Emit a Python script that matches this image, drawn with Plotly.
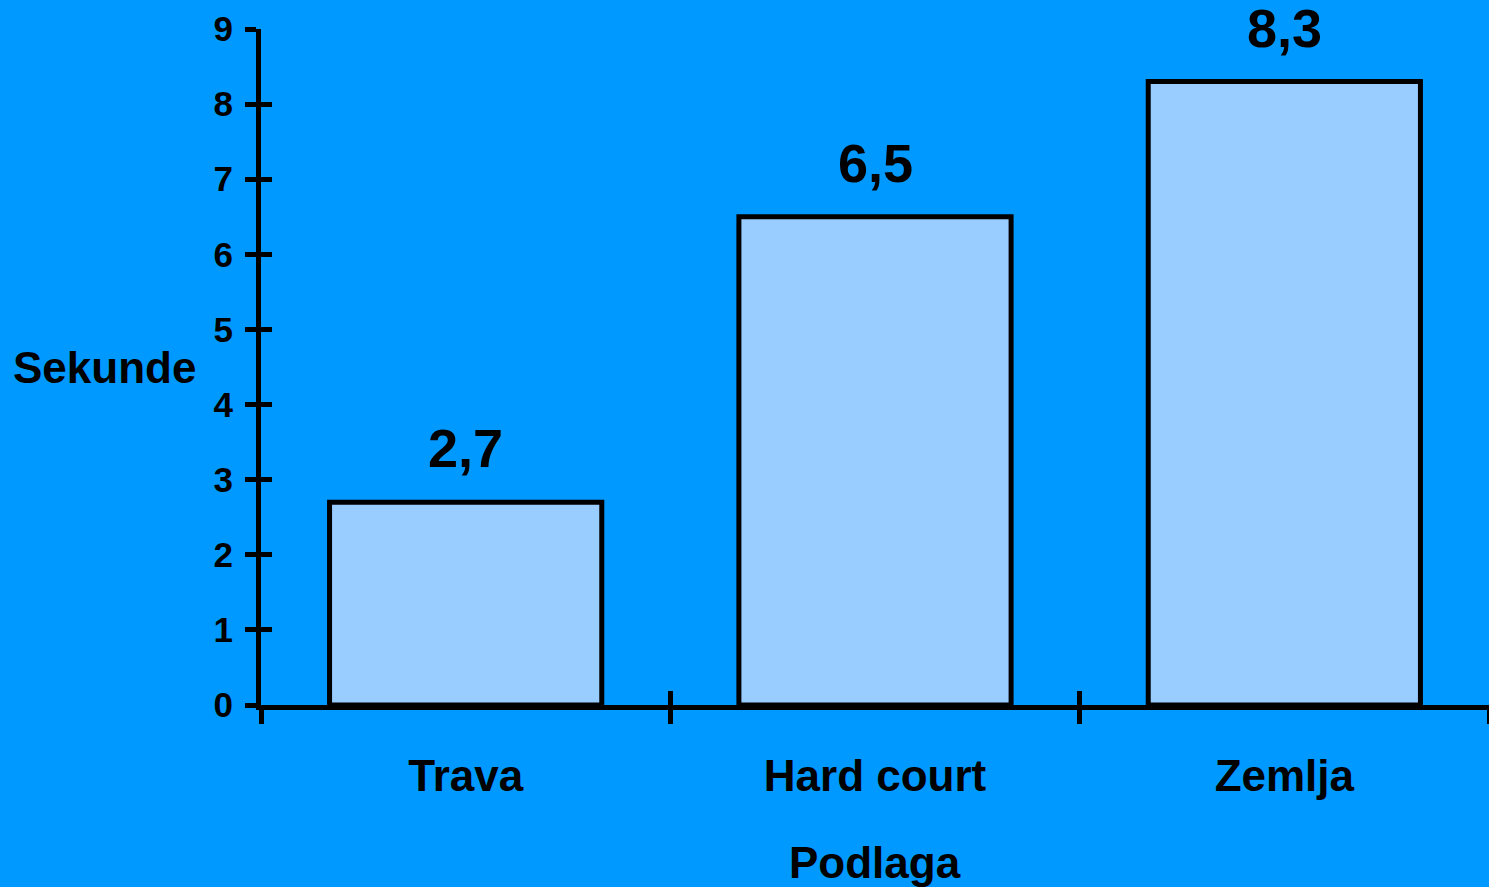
import plotly.graph_objects as go

categories = ["Trava", "Hard court", "Zemlja"]
values = [2.7, 6.5, 8.3]
value_labels = ["2,7", "6,5", "8,3"]
y_ticks = [0, 1, 2, 3, 4, 5, 6, 7, 8, 9]

BG = "#0099FF"
BAR = "#99CCFF"
FONT = "Liberation Sans, Arial, sans-serif"

fig = go.Figure()
fig.add_trace(go.Bar(
    x=categories, y=values,
    marker=dict(color=BAR, line=dict(color="black", width=5)),
    width=0.665, showlegend=False, hoverinfo="skip",
))
# invisible helper trace on overlay axes (crossing ticks)
fig.add_trace(go.Bar(
    x=categories, y=values, xaxis="x2", yaxis="y2",
    marker=dict(color="rgba(0,0,0,0)", line=dict(width=0)), width=0.665,
    showlegend=False, hoverinfo="skip",
))

for c, v, t in zip(categories, values, value_labels):
    fig.add_annotation(
        x=c, y=v, text=t, showarrow=False, yanchor="bottom", yshift=22,
        font=dict(family=FONT, size=54, color="black", weight="bold"),
    )

fig.add_annotation(
    xref="paper", yref="paper", x=0, y=0.5, xshift=-63, xanchor="right",
    yanchor="middle", text="Sekunde", showarrow=False,
    font=dict(family=FONT, size=44, color="black", weight="bold"),
)
fig.add_annotation(
    xref="paper", yref="paper", x=0.5, y=0, yshift=-157, xanchor="center",
    yanchor="middle", text="Podlaga", showarrow=False,
    font=dict(family=FONT, size=44, color="black", weight="bold"),
)

axis_common = dict(showgrid=False, zeroline=False)
fig.update_layout(
    template="none",
    width=1489, height=887,
    paper_bgcolor=BG, plot_bgcolor=BG,
    margin=dict(l=261, r=0, t=29, b=182),
    bargap=0.335,
    xaxis=dict(
        type="category", range=[-0.5, 2.5], showline=True, linewidth=5,
        linecolor="black", ticks="outside", tickson="boundaries", ticklen=14,
        tickwidth=5, tickcolor="black", ticklabelstandoff=28,
        tickfont=dict(family=FONT, size=44, color="black", weight="bold"),
        **axis_common,
    ),
    xaxis2=dict(
        type="category", overlaying="x", matches="x", anchor="y",
        range=[-0.5, 2.5], showline=False, ticks="inside",
        tickson="boundaries", ticklen=14, tickwidth=5, tickcolor="black",
        showticklabels=False, **axis_common,
    ),
    yaxis=dict(
        range=[0, 9], tickvals=y_ticks, showline=True, linewidth=5,
        linecolor="black", ticks="outside", ticklen=11, tickwidth=5,
        tickcolor="black", ticklabelstandoff=5,
        tickfont=dict(family=FONT, size=35, color="black", weight="bold"),
        **axis_common,
    ),
    yaxis2=dict(
        range=[0, 9], overlaying="y", matches="y", anchor="x",
        tickvals=y_ticks, showline=False, ticks="inside", ticklen=11,
        tickwidth=5, tickcolor="black", showticklabels=False, **axis_common,
    ),
)

fig.write_html(
    "out.html",
    config={"displayModeBar": False},
    post_script="document.body.style.margin='0';document.body.style.background='#0099FF';",
)
